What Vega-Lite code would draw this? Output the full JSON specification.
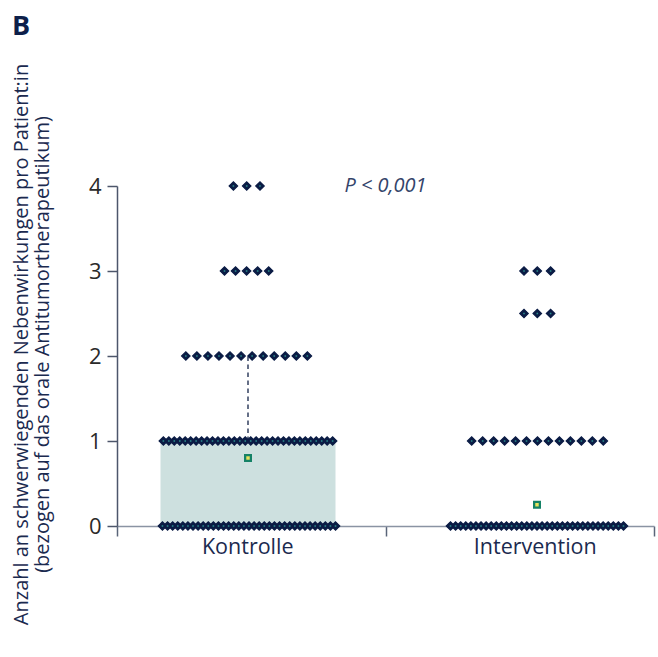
{
  "$schema": "https://vega.github.io/schema/vega-lite/v6.json",
  "width": 537,
  "height": 340,
  "autosize": {"type": "none"},
  "padding": {"left": 117, "top": 186, "right": 4, "bottom": 131},
  "background": "white",
  "config": {"view": {"stroke": null}, "font": "Open Sans"},
  "title": {"text": "B", "anchor": "start", "frame": "group", "fontSize": 27, "fontWeight": "bold", "color": "#0d1f4a", "dx": -105, "offset": 1, "baseline": "alphabetic"},
  "datasets": {
    "dots": [
      {"g": "Kontrolle", "v": 4, "r": -1}, {"g": "Kontrolle", "v": 4, "r": 0}, {"g": "Kontrolle", "v": 4, "r": 1},
      {"g": "Kontrolle", "v": 3, "r": -2}, {"g": "Kontrolle", "v": 3, "r": -1}, {"g": "Kontrolle", "v": 3, "r": 0}, {"g": "Kontrolle", "v": 3, "r": 1}, {"g": "Kontrolle", "v": 3, "r": 2},
      {"g": "Kontrolle", "v": 2, "r": -5.5}, {"g": "Kontrolle", "v": 2, "r": -4.5}, {"g": "Kontrolle", "v": 2, "r": -3.5}, {"g": "Kontrolle", "v": 2, "r": -2.5}, {"g": "Kontrolle", "v": 2, "r": -1.5}, {"g": "Kontrolle", "v": 2, "r": -0.5}, {"g": "Kontrolle", "v": 2, "r": 0.5}, {"g": "Kontrolle", "v": 2, "r": 1.5}, {"g": "Kontrolle", "v": 2, "r": 2.5}, {"g": "Kontrolle", "v": 2, "r": 3.5}, {"g": "Kontrolle", "v": 2, "r": 4.5}, {"g": "Kontrolle", "v": 2, "r": 5.5},
      {"g": "Kontrolle", "v": 1, "r": -15.5}, {"g": "Kontrolle", "v": 1, "r": -14.5}, {"g": "Kontrolle", "v": 1, "r": -13.5}, {"g": "Kontrolle", "v": 1, "r": -12.5}, {"g": "Kontrolle", "v": 1, "r": -11.5}, {"g": "Kontrolle", "v": 1, "r": -10.5}, {"g": "Kontrolle", "v": 1, "r": -9.5}, {"g": "Kontrolle", "v": 1, "r": -8.5}, {"g": "Kontrolle", "v": 1, "r": -7.5}, {"g": "Kontrolle", "v": 1, "r": -6.5}, {"g": "Kontrolle", "v": 1, "r": -5.5}, {"g": "Kontrolle", "v": 1, "r": -4.5}, {"g": "Kontrolle", "v": 1, "r": -3.5}, {"g": "Kontrolle", "v": 1, "r": -2.5}, {"g": "Kontrolle", "v": 1, "r": -1.5}, {"g": "Kontrolle", "v": 1, "r": -0.5},
      {"g": "Kontrolle", "v": 1, "r": 0.5}, {"g": "Kontrolle", "v": 1, "r": 1.5}, {"g": "Kontrolle", "v": 1, "r": 2.5}, {"g": "Kontrolle", "v": 1, "r": 3.5}, {"g": "Kontrolle", "v": 1, "r": 4.5}, {"g": "Kontrolle", "v": 1, "r": 5.5}, {"g": "Kontrolle", "v": 1, "r": 6.5}, {"g": "Kontrolle", "v": 1, "r": 7.5}, {"g": "Kontrolle", "v": 1, "r": 8.5}, {"g": "Kontrolle", "v": 1, "r": 9.5}, {"g": "Kontrolle", "v": 1, "r": 10.5}, {"g": "Kontrolle", "v": 1, "r": 11.5}, {"g": "Kontrolle", "v": 1, "r": 12.5}, {"g": "Kontrolle", "v": 1, "r": 13.5}, {"g": "Kontrolle", "v": 1, "r": 14.5}, {"g": "Kontrolle", "v": 1, "r": 15.5},
      {"g": "Kontrolle", "v": 0, "r": -17}, {"g": "Kontrolle", "v": 0, "r": -16}, {"g": "Kontrolle", "v": 0, "r": -15}, {"g": "Kontrolle", "v": 0, "r": -14}, {"g": "Kontrolle", "v": 0, "r": -13}, {"g": "Kontrolle", "v": 0, "r": -12}, {"g": "Kontrolle", "v": 0, "r": -11}, {"g": "Kontrolle", "v": 0, "r": -10}, {"g": "Kontrolle", "v": 0, "r": -9}, {"g": "Kontrolle", "v": 0, "r": -8}, {"g": "Kontrolle", "v": 0, "r": -7}, {"g": "Kontrolle", "v": 0, "r": -6}, {"g": "Kontrolle", "v": 0, "r": -5}, {"g": "Kontrolle", "v": 0, "r": -4}, {"g": "Kontrolle", "v": 0, "r": -3}, {"g": "Kontrolle", "v": 0, "r": -2}, {"g": "Kontrolle", "v": 0, "r": -1}, {"g": "Kontrolle", "v": 0, "r": 0},
      {"g": "Kontrolle", "v": 0, "r": 1}, {"g": "Kontrolle", "v": 0, "r": 2}, {"g": "Kontrolle", "v": 0, "r": 3}, {"g": "Kontrolle", "v": 0, "r": 4}, {"g": "Kontrolle", "v": 0, "r": 5}, {"g": "Kontrolle", "v": 0, "r": 6}, {"g": "Kontrolle", "v": 0, "r": 7}, {"g": "Kontrolle", "v": 0, "r": 8}, {"g": "Kontrolle", "v": 0, "r": 9}, {"g": "Kontrolle", "v": 0, "r": 10}, {"g": "Kontrolle", "v": 0, "r": 11}, {"g": "Kontrolle", "v": 0, "r": 12}, {"g": "Kontrolle", "v": 0, "r": 13}, {"g": "Kontrolle", "v": 0, "r": 14}, {"g": "Kontrolle", "v": 0, "r": 15}, {"g": "Kontrolle", "v": 0, "r": 16}, {"g": "Kontrolle", "v": 0, "r": 17},
      {"g": "Intervention", "v": 3, "r": -1}, {"g": "Intervention", "v": 3, "r": 0}, {"g": "Intervention", "v": 3, "r": 1},
      {"g": "Intervention", "v": 2.5, "r": -1}, {"g": "Intervention", "v": 2.5, "r": 0}, {"g": "Intervention", "v": 2.5, "r": 1},
      {"g": "Intervention", "v": 1, "r": -6}, {"g": "Intervention", "v": 1, "r": -5}, {"g": "Intervention", "v": 1, "r": -4}, {"g": "Intervention", "v": 1, "r": -3}, {"g": "Intervention", "v": 1, "r": -2}, {"g": "Intervention", "v": 1, "r": -1}, {"g": "Intervention", "v": 1, "r": 0}, {"g": "Intervention", "v": 1, "r": 1}, {"g": "Intervention", "v": 1, "r": 2}, {"g": "Intervention", "v": 1, "r": 3}, {"g": "Intervention", "v": 1, "r": 4}, {"g": "Intervention", "v": 1, "r": 5}, {"g": "Intervention", "v": 1, "r": 6},
      {"g": "Intervention", "v": 0, "r": -17}, {"g": "Intervention", "v": 0, "r": -16}, {"g": "Intervention", "v": 0, "r": -15}, {"g": "Intervention", "v": 0, "r": -14}, {"g": "Intervention", "v": 0, "r": -13}, {"g": "Intervention", "v": 0, "r": -12}, {"g": "Intervention", "v": 0, "r": -11}, {"g": "Intervention", "v": 0, "r": -10}, {"g": "Intervention", "v": 0, "r": -9}, {"g": "Intervention", "v": 0, "r": -8}, {"g": "Intervention", "v": 0, "r": -7}, {"g": "Intervention", "v": 0, "r": -6}, {"g": "Intervention", "v": 0, "r": -5}, {"g": "Intervention", "v": 0, "r": -4}, {"g": "Intervention", "v": 0, "r": -3}, {"g": "Intervention", "v": 0, "r": -2}, {"g": "Intervention", "v": 0, "r": -1}, {"g": "Intervention", "v": 0, "r": 0},
      {"g": "Intervention", "v": 0, "r": 1}, {"g": "Intervention", "v": 0, "r": 2}, {"g": "Intervention", "v": 0, "r": 3}, {"g": "Intervention", "v": 0, "r": 4}, {"g": "Intervention", "v": 0, "r": 5}, {"g": "Intervention", "v": 0, "r": 6}, {"g": "Intervention", "v": 0, "r": 7}, {"g": "Intervention", "v": 0, "r": 8}, {"g": "Intervention", "v": 0, "r": 9}, {"g": "Intervention", "v": 0, "r": 10}, {"g": "Intervention", "v": 0, "r": 11}, {"g": "Intervention", "v": 0, "r": 12}, {"g": "Intervention", "v": 0, "r": 13}, {"g": "Intervention", "v": 0, "r": 14}, {"g": "Intervention", "v": 0, "r": 15}, {"g": "Intervention", "v": 0, "r": 16}, {"g": "Intervention", "v": 0, "r": 17}
    ],
    "box": [{"g": "Kontrolle", "v": 0, "v2": 1, "r": 0}],
    "whisk": [{"g": "Kontrolle", "v": 1, "v2": 2, "r": 0}],
    "means": [{"g": "Kontrolle", "v": 0.8, "r": 0}, {"g": "Intervention", "v": 0.25, "r": 0}],
    "note": [{"g": "Intervention", "v": 4, "label": "P < 0,001"}]
  },
  "encoding": {
    "x": {
      "field": "g", "type": "nominal",
      "scale": {"domain": ["Kontrolle", "Intervention"], "paddingInner": 0, "paddingOuter": 0},
      "axis": {"title": null, "labelAngle": 0, "tickBand": "extent", "tickSize": 10, "tickWidth": 1.5, "tickColor": "#5a6478", "domainColor": "#8a93a3", "domainWidth": 1.5, "labelFontSize": 21.5, "labelColor": "#1b2a4f", "labelPadding": 0, "labelBaseline": "top",
        "labelOffset": {"condition": {"test": "datum.value === 'Intervention'", "value": 15}, "value": -4}}
    },
    "y": {
      "field": "v", "type": "quantitative",
      "scale": {"domain": [0, 4], "nice": false, "zero": true},
      "axis": {
        "values": [0, 1, 2, 3, 4], "format": "d", "grid": false, "tickSize": 10, "tickWidth": 1.5, "tickColor": "#4d566b", "domainColor": "#4d566b", "domainWidth": 1.5,
        "labelFontSize": 22, "labelColor": "#2a2a2a", "labelPadding": 6,
        "title": ["Anzahl an schwerwiegenden Nebenwirkungen pro Patient:in", "(bezogen auf das orale Antitumortherapeutikum)"],
        "titleFontSize": 20, "titleFontWeight": "normal", "titleColor": "#1b2a4f", "titleLineHeight": 21,
        "titleAngle": -90, "titleAlign": "center", "titleBaseline": "alphabetic", "titleX": -90, "titleY": 158
      }
    }
  },
  "resolve": {"scale": {"xOffset": "independent"}},
  "layer": [
    {
      "encoding": {"xOffset": {"field": "r", "type": "quantitative", "scale": {"domain": [-23.993, 25.183], "zero": false, "nice": false}}},
      "layer": [
        {"data": {"name": "box"}, "mark": {"type": "rule", "color": "#cde0df", "strokeWidth": 175, "strokeCap": "butt"}, "encoding": {"y2": {"field": "v2"}}},
        {"data": {"name": "whisk"}, "mark": {"type": "rule", "color": "#55607a", "strokeWidth": 1.8, "strokeDash": [4.5, 3.5]}, "encoding": {"y2": {"field": "v2"}}},
        {"data": {"name": "dots"}, "transform": [{"filter": "datum.g === 'Kontrolle' && datum.v === 1"}], "mark": {"type": "point", "shape": "diamond", "filled": true, "size": 72, "color": "#0b1c45", "stroke": "#0b1c45", "strokeWidth": 1.2, "opacity": 1}},
        {"data": {"name": "dots"}, "transform": [{"filter": "datum.g === 'Kontrolle' && datum.v === 1"}], "mark": {"type": "point", "shape": "square", "filled": true, "size": 2.5, "color": "#2a8a8c", "opacity": 1}},
        {"data": {"name": "means"}, "transform": [{"filter": "datum.g === 'Kontrolle'"}], "mark": {"type": "point", "shape": "square", "filled": true, "size": 64, "color": "#148266", "opacity": 1}},
        {"data": {"name": "means"}, "transform": [{"filter": "datum.g === 'Kontrolle'"}], "mark": {"type": "point", "shape": "square", "filled": true, "size": 12, "color": "#e6e35c", "opacity": 1}}
      ]
    },
    {
      "data": {"name": "dots"},
      "transform": [{"filter": "datum.g === 'Kontrolle' && datum.v === 0"}],
      "encoding": {"xOffset": {"field": "r", "type": "quantitative", "scale": {"domain": [-25.933, 26.817], "zero": false, "nice": false}}},
      "layer": [
        {"mark": {"type": "point", "shape": "diamond", "filled": true, "size": 72, "color": "#0b1c45", "stroke": "#0b1c45", "strokeWidth": 1.2, "opacity": 1}},
        {"mark": {"type": "point", "shape": "square", "filled": true, "size": 2.5, "color": "#2a8a8c", "opacity": 1}}
      ]
    },
    {
      "data": {"name": "dots"},
      "transform": [{"filter": "datum.g === 'Kontrolle' && datum.v === 4"}],
      "encoding": {"xOffset": {"field": "r", "type": "quantitative", "scale": {"domain": [-9.752, 10.436], "zero": false, "nice": false}}},
      "layer": [
        {"mark": {"type": "point", "shape": "diamond", "filled": true, "size": 72, "color": "#0b1c45", "stroke": "#0b1c45", "strokeWidth": 1.2, "opacity": 1}},
        {"mark": {"type": "point", "shape": "square", "filled": true, "size": 2.5, "color": "#2a8a8c", "opacity": 1}}
      ]
    },
    {
      "data": {"name": "dots"},
      "transform": [{"filter": "datum.g === 'Kontrolle' && (datum.v === 3 || datum.v === 2)"}],
      "encoding": {"xOffset": {"field": "r", "type": "quantitative", "scale": {"domain": [-11.729, 12.570], "zero": false, "nice": false}}},
      "layer": [
        {"mark": {"type": "point", "shape": "diamond", "filled": true, "size": 72, "color": "#0b1c45", "stroke": "#0b1c45", "strokeWidth": 1.2, "opacity": 1}},
        {"mark": {"type": "point", "shape": "square", "filled": true, "size": 2.5, "color": "#2a8a8c", "opacity": 1}}
      ]
    },
    {
      "data": {"name": "dots"},
      "transform": [{"filter": "datum.g === 'Intervention' && datum.v >= 2.5"}],
      "encoding": {"xOffset": {"field": "r", "type": "quantitative", "scale": {"domain": [-11.414, 8.774], "zero": false, "nice": false}}},
      "layer": [
        {"mark": {"type": "point", "shape": "diamond", "filled": true, "size": 72, "color": "#0b1c45", "stroke": "#0b1c45", "strokeWidth": 1.2, "opacity": 1}},
        {"mark": {"type": "point", "shape": "square", "filled": true, "size": 2.5, "color": "#2a8a8c", "opacity": 1}}
      ]
    },
    {
      "data": {"name": "dots"},
      "transform": [{"filter": "datum.g === 'Intervention' && datum.v === 1"}],
      "encoding": {"xOffset": {"field": "r", "type": "quantitative", "scale": {"domain": [-13.856, 10.620], "zero": false, "nice": false}}},
      "layer": [
        {"mark": {"type": "point", "shape": "diamond", "filled": true, "size": 72, "color": "#0b1c45", "stroke": "#0b1c45", "strokeWidth": 1.2, "opacity": 1}},
        {"mark": {"type": "point", "shape": "square", "filled": true, "size": 2.5, "color": "#2a8a8c", "opacity": 1}}
      ]
    },
    {
      "encoding": {"xOffset": {"field": "r", "type": "quantitative", "scale": {"domain": [-29.776, 22.995], "zero": false, "nice": false}}},
      "layer": [
        {"data": {"name": "dots"}, "transform": [{"filter": "datum.g === 'Intervention' && datum.v === 0"}], "mark": {"type": "point", "shape": "diamond", "filled": true, "size": 72, "color": "#0b1c45", "stroke": "#0b1c45", "strokeWidth": 1.2, "opacity": 1}},
        {"data": {"name": "dots"}, "transform": [{"filter": "datum.g === 'Intervention' && datum.v === 0"}], "mark": {"type": "point", "shape": "square", "filled": true, "size": 2.5, "color": "#2a8a8c", "opacity": 1}},
        {"data": {"name": "means"}, "transform": [{"filter": "datum.g === 'Intervention'"}], "mark": {"type": "point", "shape": "square", "filled": true, "size": 64, "color": "#148266", "opacity": 1}},
        {"data": {"name": "means"}, "transform": [{"filter": "datum.g === 'Intervention'"}], "mark": {"type": "point", "shape": "square", "filled": true, "size": 12, "color": "#e6e35c", "opacity": 1}}
      ]
    },
    {
      "data": {"name": "note"},
      "mark": {"type": "text", "fontStyle": "italic", "fontSize": 20, "color": "#34446a", "align": "center", "baseline": "middle"},
      "encoding": {"x": {"field": "g", "type": "nominal", "bandPosition": 0}, "text": {"field": "label"}}
    }
  ]
}
